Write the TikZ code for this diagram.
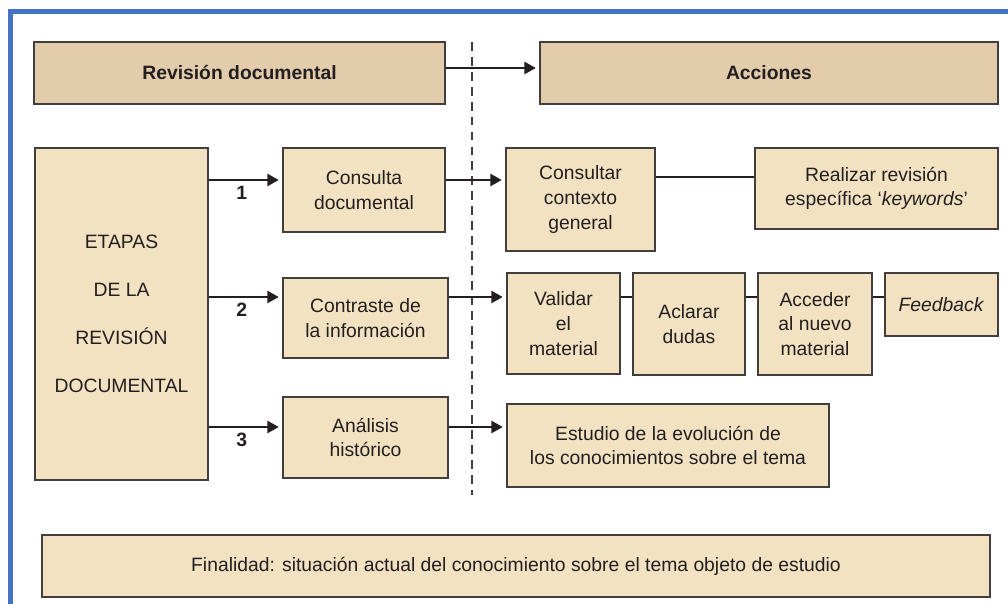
\documentclass[tikz,border=0pt]{standalone}
\usepackage{fontspec}
\setmainfont{Liberation Sans}
\usepackage{tikz}
\usetikzlibrary{arrows.meta}
\definecolor{hdrtan}{RGB}{226,204,171}
\definecolor{boxcream}{RGB}{243,226,194}
\definecolor{inkdark}{RGB}{35,31,32}
\definecolor{framegray}{RGB}{66,62,60}
\definecolor{pageblue}{RGB}{68,114,196}
\tikzset{box/.style={draw=framegray, line width=0.9pt, fill=boxcream, text=inkdark,
   align=center, inner sep=0pt, font=\fontsize{11}{14}\selectfont},
 hdr/.style={box, fill=hdrtan, font=\fontsize{11}{14}\selectfont\bfseries},
 arr/.style={draw=inkdark, line width=1.1pt, shorten >=2pt, -{Triangle[length=6.5pt,width=7pt]}},
 link/.style={draw=inkdark, line width=0.8pt},
 num/.style={font=\fontsize{11}{14}\selectfont\bfseries, text=inkdark, inner sep=1pt},
 }

\begin{document}
\begin{tikzpicture}[x=0.02cm, y=-0.02cm]
        \useasboundingbox (0,0) rectangle (1008,604);
        \draw[pageblue, line width=2.4pt] (10.5,604) -- (10.5,11.5) -- (1008,11.5);
        \draw[framegray, line width=0.8pt, dash pattern=on 5pt off 3.5pt] (472,42) -- (472,495);

        \node[hdr, minimum width=8.22cm, minimum height=1.24cm] (hdrrev) at (239.5,73) {Revisión documental};
        \node[hdr, minimum width=9.16cm, minimum height=1.24cm] (hdracc) at (769,73) {Acciones};

        \node[box, minimum width=3.46cm, minimum height=6.64cm, font=\fontsize{11}{27.4}\selectfont] (etapas) at (121.5,314)
            {ETAPAS\\DE LA\\REVISIÓN\\DOCUMENTAL};
        \node[box, minimum width=3.24cm, minimum height=1.68cm] (consulta) at (364,190) {Consulta\\documental};
        \node[box, minimum width=3.30cm, minimum height=1.60cm] (contraste) at (365.5,318) {Contraste de\\la información};
        \node[box, minimum width=3.30cm, minimum height=1.62cm] (analisis) at (365.5,437.5) {Análisis\\histórico};

        \node[box, minimum width=2.98cm, minimum height=2.06cm] (contexto) at (580.5,199.5) {Consultar\\contexto\\general};
        \node[box, minimum width=4.86cm, minimum height=1.62cm] (realizar) at (876.5,188.5) {Realizar revisión\\específica ‘\textit{keywords}’};
        \node[box, minimum width=2.26cm, minimum height=2.02cm] (validar) at (563.5,323.5) {Validar\\el\\material};
        \node[box, minimum width=2.24cm, minimum height=2.04cm] (aclarar) at (689,324) {Aclarar\\dudas};
        \node[box, minimum width=2.28cm, minimum height=2.04cm] (acceder) at (815,324) {Acceder\\al nuevo\\material};
        \node[box, minimum width=2.26cm, minimum height=1.26cm] (feedback) at (941.5,304.5) {\textit{Feedback}};
        \node[box, minimum width=6.44cm, minimum height=1.66cm] (estudio) at (668,445.5) {Estudio de la evolución de\\los conocimientos sobre el tema};

        \node[box, minimum width=18.96cm, minimum height=1.24cm] (finalidad) at (516,566)
            {Finalidad: situación actual del conocimiento sobre el tema objeto de estudio};

        \coordinate (row0) at (0,68);
        \coordinate (row1) at (0,180);
        \coordinate (row2) at (0,297);
        \coordinate (row3) at (0,427);
        \coordinate (rowr) at (0,177);

        \draw[arr] (hdrrev.east |- row0) -- (hdracc.west |- row0);
        \draw[arr] (etapas.east |- row1) -- node[num, below=2pt, pos=0.45] {1} (consulta.west |- row1);
        \draw[arr] (etapas.east |- row2) -- node[num, below=2pt, pos=0.45] {2} (contraste.west |- row2);
        \draw[arr] (etapas.east |- row3) -- node[num, below=2pt, pos=0.45] {3} (analisis.west |- row3);
        \draw[arr] (consulta.east |- row1) -- (contexto.west |- row1);
        \draw[arr] (contraste.east |- row2) -- (validar.west |- row2);
        \draw[arr] (analisis.east |- row3) -- (estudio.west |- row3);

        \draw[link] (contexto.east |- rowr) -- (realizar.west |- rowr);
        \draw[link] (validar.east |- row2) -- (aclarar.west |- row2);
        \draw[link] (aclarar.east |- row2) -- (acceder.west |- row2);
        \draw[link] (acceder.east |- row2) -- (feedback.west |- row2);
    \end{tikzpicture}
\end{document}
